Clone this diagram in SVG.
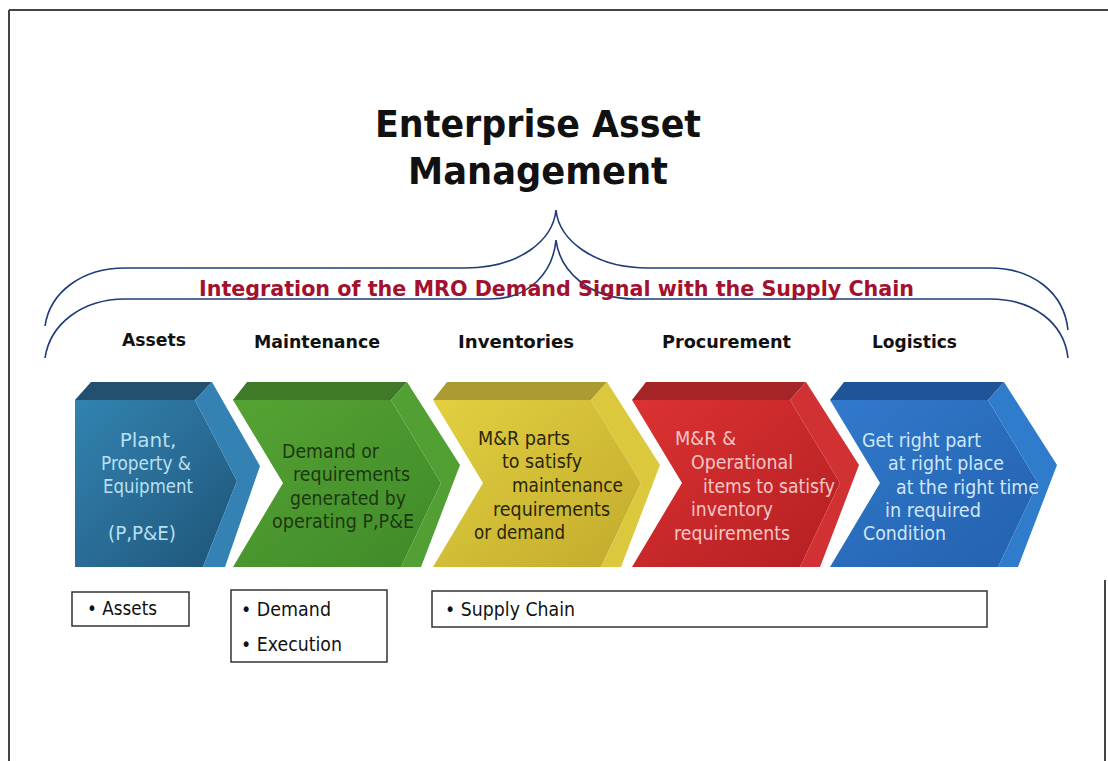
<svg xmlns="http://www.w3.org/2000/svg" width="1108" height="761" viewBox="0 0 1108 761">
<defs>
<style>
.title{font-family:"DejaVu Sans","Liberation Sans",sans-serif;font-weight:bold;font-size:37px;fill:#111}
.sub{font-family:"DejaVu Sans","Liberation Sans",sans-serif;font-weight:bold;font-size:21px;fill:#a3112e}
.hdr{font-family:"DejaVu Sans","Liberation Sans",sans-serif;font-weight:bold;font-size:18px;fill:#111}
.ct{font-family:"DejaVu Sans","Liberation Sans",sans-serif;font-size:20px}
.bx{fill:#fff;stroke:#333;stroke-width:1.5}
.bt{font-family:"DejaVu Sans","Liberation Sans",sans-serif;font-size:19px;fill:#111}
.brace{fill:none;stroke:#1f3c7a;stroke-width:1.6}
.frame{stroke:#444;stroke-width:2;fill:none}
</style>
<linearGradient id="gB1" x1="0" y1="0" x2="1" y2="1"><stop offset="0" stop-color="#3283b0"/><stop offset="0.55" stop-color="#286a93"/><stop offset="1" stop-color="#1d5477"/></linearGradient>
<linearGradient id="gG" x1="0" y1="0" x2="1" y2="1"><stop offset="0" stop-color="#56a334"/><stop offset="1" stop-color="#3f8a28"/></linearGradient>
<linearGradient id="gY" x1="0" y1="0" x2="1" y2="1"><stop offset="0" stop-color="#e2d040"/><stop offset="1" stop-color="#c2aa2c"/></linearGradient>
<linearGradient id="gR" x1="0" y1="0" x2="1" y2="1"><stop offset="0" stop-color="#dc3232"/><stop offset="1" stop-color="#b41f22"/></linearGradient>
<linearGradient id="gB5" x1="0" y1="0" x2="1" y2="1"><stop offset="0" stop-color="#3279cc"/><stop offset="1" stop-color="#2261ad"/></linearGradient>
</defs>
<rect width="1108" height="761" fill="#fff"/>
<g id="frame">
<line class="frame" x1="9" y1="10" x2="1108" y2="10"/>
<line class="frame" x1="9" y1="10" x2="9" y2="761"/>
<line class="frame" x1="1105" y1="580" x2="1105" y2="761"/>
</g>
<g id="title">
<text class="title" x="375" y="137" textLength="326" lengthAdjust="spacingAndGlyphs">Enterprise Asset</text>
<text class="title" x="408" y="184" textLength="260" lengthAdjust="spacingAndGlyphs">Management</text>
</g>
<g id="connectors">
<path class="brace" d="M45,326 C50,292 82,268 125,268 L465,268 C520,268 553,240 556,210 C559,240 594,268 648,268 L990,268 C1032,268 1064,292 1068,330"/>
<path class="brace" d="M45,358 C50,324 82,299 125,299 L490,299 C530,299 553,272 556,240 C560,272 590,299 635,299 L990,299 C1032,299 1064,322 1068,358"/>
</g>
<g id="subtitle">
<text class="sub" x="199" y="296" textLength="715" lengthAdjust="spacingAndGlyphs">Integration of the MRO Demand Signal with the Supply Chain</text>
</g>
<g id="headers">
<text class="hdr" x="122" y="346" textLength="64" lengthAdjust="spacingAndGlyphs">Assets</text>
<text class="hdr" x="254" y="348" textLength="126" lengthAdjust="spacingAndGlyphs">Maintenance</text>
<text class="hdr" x="458" y="348" textLength="116" lengthAdjust="spacingAndGlyphs">Inventories</text>
<text class="hdr" x="662" y="348" textLength="129" lengthAdjust="spacingAndGlyphs">Procurement</text>
<text class="hdr" x="872" y="348" textLength="85" lengthAdjust="spacingAndGlyphs">Logistics</text>
</g>
<g id="node-assets">
<polygon points="75,400 195,400 237,481 203,567 75,567" fill="url(#gB1)"/>
<polygon points="75,400 91,382 212,382 195,400" fill="#22506e"/>
<polygon points="195,400 212,382 260,466 225,567 203,567 237,481" fill="#3482b3"/>
<g class="ct" fill="#b8e0f2" text-anchor="middle">
<text x="148" y="447">Plant,</text>
<text x="146" y="470" textLength="90" lengthAdjust="spacingAndGlyphs">Property &amp;</text>
<text x="148" y="493" textLength="90" lengthAdjust="spacingAndGlyphs">Equipment</text>
<text x="142" y="540" textLength="68" lengthAdjust="spacingAndGlyphs">(P,P&amp;E)</text>
</g>
</g>
<g id="node-maintenance">
<polygon points="233,400 391,400 441,483 401,567 233,567 283,483" fill="url(#gG)"/>
<polygon points="233,400 247,382 407,382 391,400" fill="#3f7a29"/>
<polygon points="391,400 407,382 460,465 421,567 401,567 441,483" fill="#52a034"/>
<g class="ct" fill="#1c3810">
<text x="282" y="458" textLength="97" lengthAdjust="spacingAndGlyphs">Demand or</text>
<text x="293" y="481" textLength="117" lengthAdjust="spacingAndGlyphs">requirements</text>
<text x="290" y="505" textLength="116" lengthAdjust="spacingAndGlyphs">generated by</text>
<text x="272" y="528" textLength="142" lengthAdjust="spacingAndGlyphs">operating P,P&amp;E</text>
</g>
</g>
<g id="node-inventories">
<polygon points="433,400 591,400 641,483 601,567 433,567 483,483" fill="url(#gY)"/>
<polygon points="433,400 447,382 607,382 591,400" fill="#aa9c32"/>
<polygon points="591,400 607,382 660,465 621,567 601,567 641,483" fill="#dcc83c"/>
<g class="ct" fill="#2a260a">
<text x="478" y="445" textLength="92" lengthAdjust="spacingAndGlyphs">M&amp;R parts</text>
<text x="502" y="468" textLength="80" lengthAdjust="spacingAndGlyphs">to satisfy</text>
<text x="512" y="492" textLength="111" lengthAdjust="spacingAndGlyphs">maintenance</text>
<text x="493" y="516" textLength="117" lengthAdjust="spacingAndGlyphs">requirements</text>
<text x="474" y="539" textLength="91" lengthAdjust="spacingAndGlyphs">or demand</text>
</g>
</g>
<g id="node-procurement">
<polygon points="632,400 790,400 840,483 800,567 632,567 682,483" fill="url(#gR)"/>
<polygon points="632,400 646,382 806,382 790,400" fill="#a42427"/>
<polygon points="790,400 806,382 859,465 820,567 800,567 840,483" fill="#d23133"/>
<g class="ct" fill="#f5c6c6">
<text x="675" y="445" textLength="61" lengthAdjust="spacingAndGlyphs">M&amp;R &amp;</text>
<text x="691" y="469" textLength="102" lengthAdjust="spacingAndGlyphs">Operational</text>
<text x="703" y="493" textLength="132" lengthAdjust="spacingAndGlyphs">items to satisfy</text>
<text x="691" y="516" textLength="82" lengthAdjust="spacingAndGlyphs">inventory</text>
<text x="674" y="540" textLength="116" lengthAdjust="spacingAndGlyphs">requirements</text>
</g>
</g>
<g id="node-logistics">
<polygon points="830,400 988,400 1038,483 998,567 830,567 880,483" fill="url(#gB5)"/>
<polygon points="830,400 844,382 1004,382 988,400" fill="#1f5596"/>
<polygon points="988,400 1004,382 1057,465 1018,567 998,567 1038,483" fill="#2f7ccc"/>
<g class="ct" fill="#cfe7fa">
<text x="862" y="447" textLength="119" lengthAdjust="spacingAndGlyphs">Get right part</text>
<text x="888" y="470" textLength="116" lengthAdjust="spacingAndGlyphs">at right place</text>
<text x="896" y="494" textLength="143" lengthAdjust="spacingAndGlyphs">at the right time</text>
<text x="885" y="517" textLength="96" lengthAdjust="spacingAndGlyphs">in required</text>
<text x="863" y="540" textLength="83" lengthAdjust="spacingAndGlyphs">Condition</text>
</g>
</g>
<g id="box-assets">
<rect class="bx" x="72" y="592" width="117" height="34"/>
<text class="bt" x="87" y="615" textLength="70" lengthAdjust="spacingAndGlyphs">• Assets</text>
</g>
<g id="box-demand">
<rect class="bx" x="231" y="590" width="156" height="72"/>
<text class="bt" x="241" y="616" textLength="90" lengthAdjust="spacingAndGlyphs">• Demand</text>
<text class="bt" x="241" y="651" textLength="101" lengthAdjust="spacingAndGlyphs">• Execution</text>
</g>
<g id="box-supply">
<rect class="bx" x="432" y="591" width="555" height="36"/>
<text class="bt" x="445" y="616" textLength="130" lengthAdjust="spacingAndGlyphs">• Supply Chain</text>
</g>
</svg>
